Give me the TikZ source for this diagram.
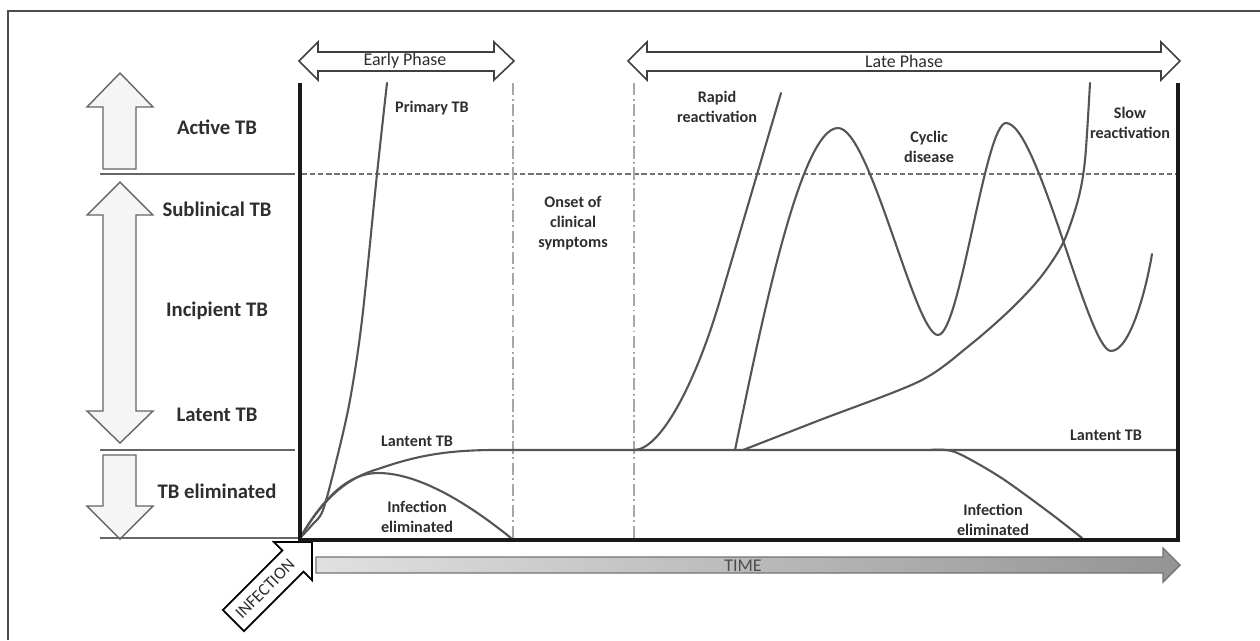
\documentclass[tikz,border=0pt]{standalone}
\usepackage{fontspec}
\setmainfont{Carlito}
\usetikzlibrary{positioning}
\definecolor{curvegray}{HTML}{555555}
\definecolor{textgray}{HTML}{2E2E2E}
\tikzset{
        % Thin frame round the figure
        frame_line/.style={draw=black!70, line width=0.7pt},
        % Level arrows on the left
        level_arrow/.style={draw=black!60, fill=black!4, line width=0.8pt, line join=miter},
        % Phase double arrows on top
        phase_arrow/.style={draw=black!75, fill=white, line width=0.9pt, line join=miter},
        % Level separators
        sep_line/.style={draw=black!60, line width=0.9pt},
        % Chart axes
        axis_line/.style={draw=black!90, line width=2.7pt, line join=miter},
        % Course of the infection
        curve_line/.style={draw=curvegray, line width=1.2pt, line cap=round},
        % Phase boundaries
        phase_bound/.style={draw=black!35, line width=0.7pt, dash pattern=on 7pt off 2pt on 1pt off 2pt},
        % Active TB threshold
        dash_line/.style={draw=black!55, line width=0.6pt, dash pattern=on 3pt off 1.6pt},
        % Texts
        side_label/.style={text=textgray, font=\bfseries\fontsize{11.8}{14}\selectfont},
        curve_label/.style={text=textgray, align=center, font=\bfseries\fontsize{9.2}{11.3}\selectfont},
        phase_label/.style={text=textgray, font=\fontsize{10.2}{12}\selectfont}
}
\begin{document}
\begin{tikzpicture}[x=0.02cm, y=-0.02cm]
    \useasboundingbox (0,0) rectangle (1260,640);
    \draw[frame_line] (8,640) -- (8,11) -- (1260,11);

    % level arrows
    \draw[level_arrow] (120,73) -- (153,107) -- (136,107) -- (136,169) -- (103,169) -- (103,107) -- (87,107) -- cycle;
    \draw[level_arrow] (120,182) -- (153,215) -- (136,215) -- (136,411) -- (153,411) -- (120,443)
        -- (87,411) -- (103,411) -- (103,215) -- (87,215) -- cycle;
    \draw[level_arrow] (103,455) -- (136,455) -- (136,506) -- (153,506) -- (120,539) -- (87,506) -- (103,506) -- cycle;

    \node[side_label] (active) at (217,127) {Active TB};
    \node[side_label] (sublin) at (217,209) {Sublinical TB};
    \node[side_label] (incip) at (217,311) {Incipient TB};
    \node[side_label] (latent) at (217,415) {Latent TB};
    \node[side_label] (elim) at (217,491) {TB eliminated};

    % level separators
    \draw[sep_line] (100,174) -- (295,174);
    \draw[sep_line] (100,450) -- (295,450);
    \draw[sep_line] (100,538) -- (300,538);
    \draw[dash_line] (302,174) -- (1176,174);

    % phases
    \draw[phase_bound] (513,83) -- (513,538);
    \draw[phase_bound] (634,83) -- (634,538);
    \draw[phase_arrow] (299,61) -- (318,42) -- (318,52) -- (494,52) -- (494,42) -- (514,61)
        -- (494,80) -- (494,71) -- (318,71) -- (318,80) -- cycle;
    \draw[phase_arrow] (628,61) -- (647,42) -- (647,52) -- (1161,52) -- (1161,42) -- (1180,61)
        -- (1161,80) -- (1161,71) -- (647,71) -- (647,80) -- cycle;
    \node[phase_label] (early) at (405,61) {Early Phase};
    \node[phase_label] (late) at (904,61) {Late Phase};

    % early phase curves
    \draw[curve_line] plot[smooth] coordinates {(300,538) (312,525) (323,510) (337,458) (350,400) (362,320) (377,174) (387,83)};
    \draw[curve_line] (300,538) .. controls (325,495) and (350,477) .. (378,469)
        .. controls (410,458) and (440,450) .. (495,450) -- (1176,450);
    \draw[curve_line] (300,538) .. controls (325,495) and (350,473) .. (378,473)
        .. controls (420,473) and (470,505) .. (511,538);

    % late phase curves
    \draw[curve_line] (634,450) .. controls (660,450) and (695,385) .. (720,300) -- (781,93);
    \draw[curve_line] (735,450) .. controls (760,330) and (800,128) .. (838,128)
        .. controls (870,128) and (915,335) .. (938,335)
        .. controls (960,335) and (985,123) .. (1006,123)
        .. controls (1038,123) and (1088,351) .. (1111,351)
        .. controls (1130,351) and (1146,290) .. (1152,254);
    \draw[curve_line] plot[smooth] coordinates {(743,450) (820,420) (920,381) (970,345) (1010,310) (1040,278) (1063,243) (1078,200) (1085,160) (1090,83)};
    \draw[curve_line] plot[smooth] coordinates {(930,450) (955,452) (1000,477) (1050,513) (1082,538)};

    \node[curve_label] (primary) at (432,108) {Primary TB};
    \node[curve_label] (onset) at (573,223) {Onset of\\clinical\\symptoms};
    \node[curve_label] (lat_early) at (417,441) {Lantent TB};
    \node[curve_label] (elim_early) at (417,517) {Infection\\eliminated};
    \node[curve_label] (rapid) at (717,107) {Rapid\\reactivation};
    \node[curve_label] (cyclic) at (929,147) {Cyclic\\disease};
    \node[curve_label] (slow) at (1130,123) {Slow\\reactivation};
    \node[curve_label] (lat_late) at (1106,435) {Lantent TB};
    \node[curve_label] (elim_late) at (993,520) {Infection\\eliminated};

    % time axis
    \shadedraw[left color=black!12, right color=black!42, draw=black!55, line width=0.8pt, line join=miter]
        (316,557) -- (1163,557) -- (1163,548) -- (1180,565) -- (1163,582) -- (1163,573) -- (316,573) -- cycle;
    \node[phase_label, text=black!70] (time) at (743,566) {TIME};

    % infection
    \draw[draw=black, fill=white, line width=1pt, line join=miter] (312,542) -- (312,580.2) -- (303.5,571.7)
        -- (244.1,631.1) -- (222.9,609.9) -- (282.3,550.5) -- (273.8,542) -- cycle;
    \node[phase_label, rotate=45, inner sep=0pt, font=\fontsize{9.8}{10}\selectfont] (infect) at (265,589) {INFECTION};

    % chart axes
    \draw[axis_line] (300,83) -- (300,540) -- (1178,540) -- (1178,83);
\end{tikzpicture}
\end{document}
